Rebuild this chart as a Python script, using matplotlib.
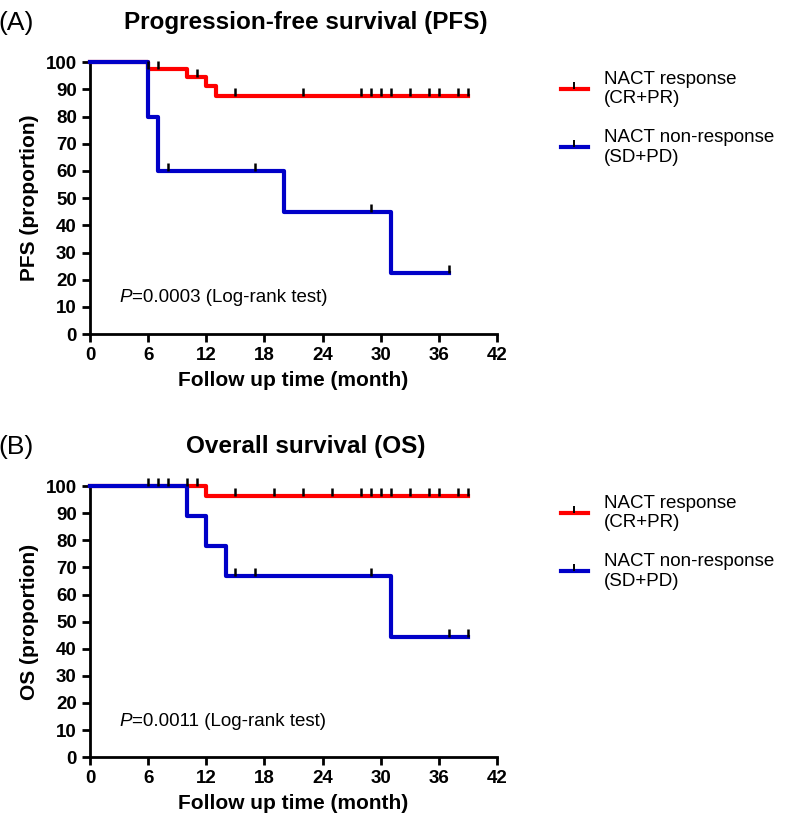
import matplotlib
matplotlib.use("Agg")
import matplotlib.pyplot as plt
from matplotlib.lines import Line2D
import numpy as np

plt.rcParams['font.family'] = ['Liberation Sans', 'DejaVu Sans']

# PFS curves (months, percent)
pfs_resp_t = [0, 6, 10, 12, 13, 39]
pfs_resp_s = [100, 97.4, 94.6, 91.2, 87.7, 87.7]
pfs_resp_cens = [6, 7, 11, 15, 22, 28, 29, 30, 31, 33, 35, 36, 38, 39]

pfs_non_t = [0, 6, 7, 20, 31, 37]
pfs_non_s = [100, 80, 60, 45, 22.5, 22.5]
pfs_non_cens = [8, 17, 29, 37]

# OS curves
os_resp_t = [0, 12, 39]
os_resp_s = [100, 96.4, 96.4]
os_resp_cens = [6, 7, 8, 10, 11, 15, 19, 22, 25, 28, 29, 30, 31, 33, 35, 36, 38, 39]

os_non_t = [0, 10, 12, 14, 31, 39]
os_non_s = [100, 88.9, 77.8, 66.7, 44.4, 44.4]
os_non_cens = [15, 17, 29, 37, 39]

RED = '#ff0000'
BLUE = '#0000c8'


def surv_at(t, times, surv):
    idx = np.searchsorted(times, t, side='right') - 1
    return np.array(surv)[idx]


def draw_panel(ax, curves, title, letter, ylabel, ptext):
    for times, surv, cens, col in curves:
        ax.step(times, surv, where='post', color=col, lw=3, clip_on=False, zorder=3)
        ax.plot(cens, surv_at(cens, times, surv), linestyle='none', marker=2,
                color='black', markersize=5.5, mew=1.8, clip_on=False, zorder=4)
    ax.set_xlim(0, 42)
    ax.set_ylim(0, 100)
    ax.set_xticks(np.arange(0, 43, 6))
    ax.set_yticks(np.arange(0, 101, 10))
    for s in ['top', 'right']:
        ax.spines[s].set_visible(False)
    for s in ['left', 'bottom']:
        ax.spines[s].set_linewidth(2)
    ax.tick_params(direction='out', length=6, width=2, labelsize=13.5)
    for lab in ax.get_xticklabels() + ax.get_yticklabels():
        lab.set_fontweight('bold')
    ax.set_xlabel('Follow up time (month)', fontsize=15, fontweight='bold', labelpad=5)
    ax.set_ylabel(ylabel, fontsize=15, fontweight='bold', labelpad=5)
    ax.text(0.53, 1.145, title, transform=ax.transAxes, fontsize=17.5,
            fontweight='bold', ha='center', va='center')
    ax.text(-0.225, 1.145, letter, transform=ax.transAxes, fontsize=19, va='center', ha='left')
    ax.text(3.0, 13.3, ptext[0], style='italic', fontsize=13.5, va='center')
    ax.text(3.0 + 1.3, 13.3, ptext[1], fontsize=13.5, va='center')

    handles = [Line2D([0], [0], color=RED, lw=3, marker=2, markersize=5,
                      markeredgecolor='black', mew=1.4),
               Line2D([0], [0], color=BLUE, lw=3, marker=2, markersize=5,
                      markeredgecolor='black', mew=1.4)]
    ax.legend(handles, ['NACT response\n(CR+PR)', 'NACT non-response\n(SD+PD)'],
              loc='upper left', bbox_to_anchor=(1.115, 1.03), frameon=False,
              fontsize=13.5, handlelength=1.45, labelspacing=1.15, handletextpad=0.85,
              markerfirst=True)


fig = plt.figure(figsize=(7.86, 8.23), dpi=100)
ax1 = fig.add_axes([0.1145, 0.594, 0.518, 0.3305])
ax2 = fig.add_axes([0.1145, 0.080, 0.518, 0.3293])

draw_panel(ax1, [(pfs_resp_t, pfs_resp_s, pfs_resp_cens, RED),
                 (pfs_non_t, pfs_non_s, pfs_non_cens, BLUE)],
           'Progression-free survival (PFS)', '(A)', 'PFS (proportion)',
           ('P', '=0.0003 (Log-rank test)'))
draw_panel(ax2, [(os_resp_t, os_resp_s, os_resp_cens, RED),
                 (os_non_t, os_non_s, os_non_cens, BLUE)],
           'Overall survival (OS)', '(B)', 'OS (proportion)',
           ('P', '=0.0011 (Log-rank test)'))

fig.savefig('out.png', dpi=100)
